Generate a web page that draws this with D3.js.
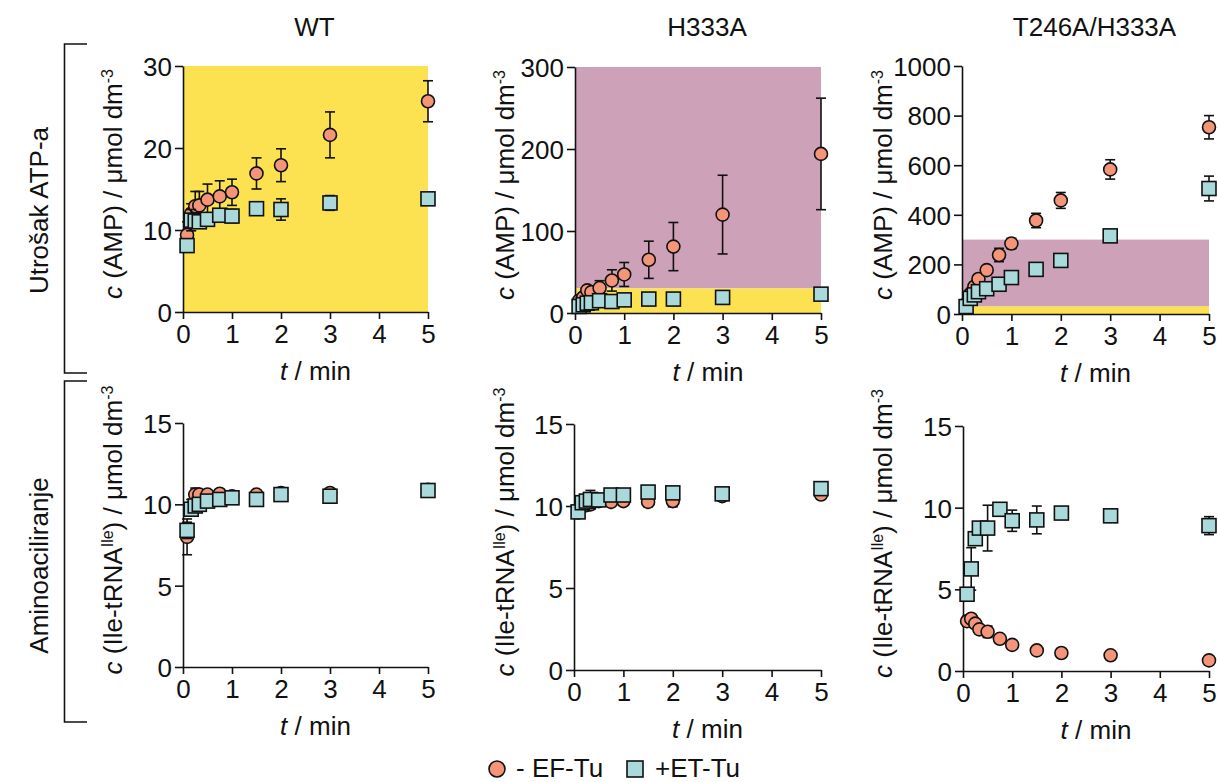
<!DOCTYPE html>
<html>
<head>
<meta charset="utf-8">
<script src="https://cdn.jsdelivr.net/npm/d3@7"></script>
<style>
  html, body { margin: 0; padding: 0; background: #fff; }
  svg { display: block; font-family: "Liberation Sans", Arial, sans-serif; }
</style>
</head>
<body>
<svg id="chart" width="1218" height="782"></svg>
<script>
// ---------------- data ----------------
const times = [0.083, 0.167, 0.25, 0.333, 0.5, 0.75, 1, 1.5, 2, 3, 5];
const xTicks = [0, 1, 2, 3, 4, 5];
const columnTitles = ["WT", "H333A", "T246A/H333A"];
const rowLabels = ["Utrošak ATP-a", "Aminoaciliranje"];
const seriesNames = ["- EF-Tu", "+ET-Tu"];

// AMP (top row)
const ampWtMinus     = [9.4, 12.0, 12.9, 13.0, 13.7, 14.1, 14.6, 16.9, 17.9, 21.6, 25.7];
const ampWtMinusErr  = [1.6, 1.2, 1.8, 1.7, 1.9, 1.9, 1.6, 1.9, 2.0, 2.8, 2.5];
const ampWtPlus      = [8.1, 11.2, 11.1, 11.0, 11.3, 11.8, 11.7, 12.6, 12.5, 13.3, 13.8];
const ampWtPlusErr   = [0.5, 1.3, 0.8, 0.6, 0.5, 0.6, 0.8, 0.5, 1.3, 0.9, 0.4];

const ampH3Minus     = [15, 19, 27.6, 25.5, 30.4, 39.7, 47, 64.9, 81, 120, 194];
const ampH3MinusErr  = [3, 4, 4, 5, 9, 13, 14.6, 22.7, 29.4, 48, 68];
const ampH3Plus      = [8, 10, 12, 12.5, 15, 14, 16, 17, 17, 19, 23];
const ampH3PlusErr   = [1, 1, 1, 1, 1, 1, 1, 1, 1, 1, 1];

const ampDmMinus     = [40, 80, 110, 141, 177, 238, 284, 377, 458, 583, 753];
const ampDmMinusErr  = [5, 8, 10, 10, 12, 27, 21, 29, 32, 39, 47];
const ampDmPlus      = [30, 63, 77, 90, 102, 120, 147, 180, 216, 315, 506];
const ampDmPlusErr   = [5, 5, 5, 6, 8, 8, 10, 10, 10, 12, 50];

// Ile-tRNA (bottom row)
const ileWtMinus     = [8.0, 9.8, 10.6, 10.6, 10.6, 10.65, 10.5, 10.6, 10.7, 10.7, 10.9];
const ileWtMinusErr  = [1.1, 0.5, 0.4, 0.2, 0.15, 0.15, 0.15, 0.15, 0.15, 0.15, 0.1];
const ileWtPlus      = [8.4, 9.7, 9.9, 10.0, 10.2, 10.3, 10.4, 10.3, 10.6, 10.5, 10.85];
const ileWtPlusErr   = [0.5, 0.3, 0.2, 0.2, 0.15, 0.15, 0.15, 0.15, 0.2, 0.15, 0.1];

const ileH3Minus     = [9.6, 10.0, 10.05, 10.1, 10.3, 10.25, 10.3, 10.25, 10.3, 10.6, 10.7];
const ileH3MinusErr  = [0.3, 0.3, 0.3, 0.3, 0.2, 0.2, 0.2, 0.3, 0.35, 0.1, 0.2];
const ileH3Plus      = [9.64, 10.2, 10.3, 10.4, 10.37, 10.67, 10.67, 10.85, 10.8, 10.74, 11.06];
const ileH3PlusErr   = [0.3, 0.3, 0.3, 0.55, 0.2, 0.2, 0.3, 0.3, 0.2, 0.1, 0.3];

const ileDmMinus     = [3.05, 3.2, 2.9, 2.55, 2.4, 1.97, 1.6, 1.26, 1.1, 0.96, 0.65];
const ileDmMinusErr  = [0.3, 0.2, 0.15, 0.15, 0.35, 0.1, 0.1, 0.1, 0.1, 0.1, 0.1];
const ileDmPlus      = [4.7, 6.25, 8.1, 8.75, 8.75, 9.9, 9.2, 9.25, 9.67, 9.5, 8.9];
const ileDmPlusErr   = [0.4, 1.3, 0.3, 0.2, 1.4, 0.2, 0.65, 0.85, 0.25, 0.15, 0.55];

// y ranges / ticks
const yMaxTop = [30, 300, 1000];
const yTicksTop = [[0, 10, 20, 30], [0, 100, 200, 300], [0, 200, 400, 600, 800, 1000]];
const yMaxBottom = 15;
const yTicksBottom = [0, 5, 10, 15];
// background bands [from, to] per top panel
const yellowBand = [[0, 30], [0, 30], [0, 30]];
const purpleBand = [null, [30, 300], [30, 300]];

// ---------------- style / layout ----------------
const COL_Y = "#FCE150", COL_P = "#CDA2B8", COL_C = "#F4957A", COL_S = "#A9D9DA";
const FONT = 26;
const svg = d3.select("#chart");

const boxes = [
  {x0: 183, x1: 428, y0: 66, y1: 312},
  {x0: 575, x1: 821, y0: 67, y1: 313},
  {x0: 962, x1: 1209, y0: 66, y1: 314},
  {x0: 183, x1: 428, y0: 423, y1: 667},
  {x0: 574, x1: 821, y0: 424, y1: 670},
  {x0: 963, x1: 1209, y0: 426, y1: 671}
];
const yTitleX = [122, 514, 892];

const panels = [
  {ymax: yMaxTop[0], ticks: yTicksTop[0], minus: ampWtMinus, minusErr: ampWtMinusErr, plus: ampWtPlus, plusErr: ampWtPlusErr, yb: yellowBand[0], pb: purpleBand[0], top: true},
  {ymax: yMaxTop[1], ticks: yTicksTop[1], minus: ampH3Minus, minusErr: ampH3MinusErr, plus: ampH3Plus, plusErr: ampH3PlusErr, yb: yellowBand[1], pb: purpleBand[1], top: true},
  {ymax: yMaxTop[2], ticks: yTicksTop[2], minus: ampDmMinus, minusErr: ampDmMinusErr, plus: ampDmPlus, plusErr: ampDmPlusErr, yb: yellowBand[2], pb: purpleBand[2], top: true},
  {ymax: yMaxBottom, ticks: yTicksBottom, minus: ileWtMinus, minusErr: ileWtMinusErr, plus: ileWtPlus, plusErr: ileWtPlusErr, top: false},
  {ymax: yMaxBottom, ticks: yTicksBottom, minus: ileH3Minus, minusErr: ileH3MinusErr, plus: ileH3Plus, plusErr: ileH3PlusErr, top: false},
  {ymax: yMaxBottom, ticks: yTicksBottom, minus: ileDmMinus, minusErr: ileDmMinusErr, plus: ileDmPlus, plusErr: ileDmPlusErr, top: false}
];

panels.forEach((p, i) => {
  const b = boxes[i];
  const col = i % 3;
  const x = d3.scaleLinear().domain([0, 5]).range([b.x0, b.x1]);
  const y = d3.scaleLinear().domain([0, p.ymax]).range([b.y1, b.y0]);
  const g = svg.append("g");

  // background bands
  if (p.pb) g.append("rect").attr("x", x(0)).attr("width", x(5) - x(0))
      .attr("y", y(p.pb[1])).attr("height", y(p.pb[0]) - y(p.pb[1])).attr("fill", COL_P);
  if (p.yb) g.append("rect").attr("x", x(0)).attr("width", x(5) - x(0))
      .attr("y", y(p.yb[1])).attr("height", y(p.yb[0]) - y(p.yb[1])).attr("fill", COL_Y);

  // axes
  const ax = g.append("g").attr("transform", `translate(0,${b.y1})`)
    .call(d3.axisBottom(x).tickValues(xTicks).tickFormat(d3.format("d")).tickSize(7).tickSizeOuter(0).tickPadding(6));
  const ay = g.append("g").attr("transform", `translate(${b.x0},0)`)
    .call(d3.axisLeft(y).tickValues(p.ticks).tickFormat(d3.format("d")).tickSize(8).tickSizeOuter(0).tickPadding(3));
  [ax, ay].forEach(a => {
    a.selectAll("path, line").attr("stroke", "#111").attr("stroke-width", 1.6);
    a.selectAll("text").attr("fill", "#111").style("font-size", FONT + "px")
      .style("font-family", "'Liberation Sans', Arial, sans-serif");
  });
  ay.selectAll("text").attr("dy", "0.36em");

  // series
  const series = [
    {vals: p.minus, errs: p.minusErr, shape: "circle", fill: COL_C},
    {vals: p.plus, errs: p.plusErr, shape: "square", fill: COL_S}
  ];
  series.forEach(s => {
    const data = times.map((t, k) => ({t, v: s.vals[k], e: s.errs[k]}));
    const eg = g.append("g").attr("stroke", "#111").attr("stroke-width", 1.6);
    data.forEach(d => {
      const cx = x(d.t), capW = 5;
      eg.append("line").attr("x1", cx).attr("x2", cx).attr("y1", y(d.v - d.e)).attr("y2", y(d.v + d.e));
      eg.append("line").attr("x1", cx - capW).attr("x2", cx + capW).attr("y1", y(d.v + d.e)).attr("y2", y(d.v + d.e));
      eg.append("line").attr("x1", cx - capW).attr("x2", cx + capW).attr("y1", y(d.v - d.e)).attr("y2", y(d.v - d.e));
    });
    const mg = g.append("g");
    if (s.shape === "circle") {
      mg.selectAll("circle").data(data).join("circle")
        .attr("cx", d => x(d.t)).attr("cy", d => y(d.v)).attr("r", 6.5)
        .attr("fill", s.fill).attr("stroke", "#111").attr("stroke-width", 1.6);
    } else {
      mg.selectAll("rect").data(data).join("rect")
        .attr("x", d => x(d.t) - 7).attr("y", d => y(d.v) - 7).attr("width", 14).attr("height", 14)
        .attr("fill", s.fill).attr("stroke", "#111").attr("stroke-width", 1.6);
    }
  });

  // x axis title
  const xt = g.append("text").attr("x", (b.x0 + b.x1) / 2 + 10).attr("y", b.y1 + 68)
    .attr("text-anchor", "middle").style("font-size", FONT + "px").attr("fill", "#111");
  xt.append("tspan").style("font-style", "italic").text("t");
  xt.append("tspan").text(" / min");

  // y axis title
  const yc = p.top ? (b.y0 + b.y1) / 2 - 5 : (b.y0 + b.y1) / 2 - 15;
  const yt = g.append("text").attr("transform", `translate(${yTitleX[col]},${yc}) rotate(-90)`)
    .attr("text-anchor", "middle").style("font-size", FONT + "px").attr("fill", "#111");
  yt.append("tspan").style("font-style", "italic").text("c");
  if (p.top) {
    yt.append("tspan").text(" (AMP) / μmol dm");
  } else {
    yt.append("tspan").text(" (Ile-tRNA");
    yt.append("tspan").attr("dy", -9).style("font-size", "16px").text("Ile");
    yt.append("tspan").attr("dy", 9).text(") / μmol dm");
  }
  yt.append("tspan").attr("dy", -9).style("font-size", "16px").text("-3");

  // column titles
  if (p.top) {
    svg.append("text").attr("x", (b.x0 + b.x1) / 2 + 9).attr("y", 36).attr("text-anchor", "middle")
      .style("font-size", FONT + "px").attr("fill", "#111").text(columnTitles[col]);
  }
});

// row labels and brackets
[[44, 373], [381, 722]].forEach((r, k) => {
  svg.append("path").attr("d", `M87,${r[0]} H64.5 V${r[1]} H87`)
    .attr("fill", "none").attr("stroke", "#111").attr("stroke-width", 1.6);
  svg.append("text").attr("transform", `translate(48,${(r[0] + r[1]) / 2 + (k ? 14 : 2)}) rotate(-90)`)
    .attr("text-anchor", "middle").style("font-size", FONT + "px").attr("fill", "#111").text(rowLabels[k]);
});

// legend
const lg = svg.append("g");
lg.append("circle").attr("cx", 497).attr("cy", 769).attr("r", 8)
  .attr("fill", COL_C).attr("stroke", "#111").attr("stroke-width", 1.6);
lg.append("text").attr("x", 516).attr("y", 777).style("font-size", FONT + "px").attr("fill", "#111").text(seriesNames[0]);
lg.append("rect").attr("x", 627).attr("y", 761).attr("width", 16).attr("height", 16)
  .attr("fill", COL_S).attr("stroke", "#111").attr("stroke-width", 1.6);
lg.append("text").attr("x", 655).attr("y", 777).style("font-size", FONT + "px").attr("fill", "#111").text(seriesNames[1]);
</script>
</body>
</html>
